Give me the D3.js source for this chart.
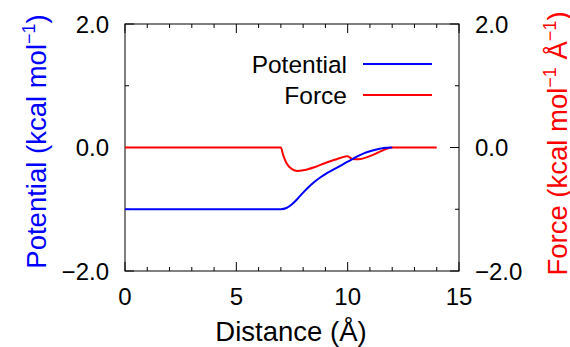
<!DOCTYPE html>
<html>
<head>
<meta charset="utf-8">
<script src="https://d3js.org/d3.v7.min.js"></script>
<style>
body { margin: 0; background: #fff; }
text { font-family: "Liberation Sans", Arial, sans-serif; }
</style>
</head>
<body>
<svg width="570" height="347"></svg>
<script>
// distance (Å) and values
var potX = [0, 7.0, 7.25, 7.5, 7.75, 8.0, 8.25, 8.5, 8.75, 9.0, 9.25, 9.5, 9.75, 10.0, 10.25, 10.5, 10.75, 11.0, 11.25, 11.5, 11.75, 12.0];
var potY = [-1, -1, -0.98, -0.92, -0.83, -0.73, -0.64, -0.56, -0.49, -0.43, -0.38, -0.33, -0.28, -0.23, -0.18, -0.13, -0.09, -0.06, -0.035, -0.015, -0.004, 0];
var forceX = [0, 7.0, 7.1, 7.25, 7.5, 7.75, 8.0, 8.5, 9.0, 9.5, 9.9, 10.0, 10.2, 10.5, 11.0, 11.5, 11.75, 12.0, 14.0];
var forceY = [0, 0, -0.12, -0.25, -0.35, -0.38, -0.37, -0.32, -0.25, -0.19, -0.145, -0.14, -0.185, -0.19, -0.14, -0.06, -0.02, 0, 0];
var xTicks = [0, 5, 10, 15];
var yTicks = [-2, 0, 2];

var svg = d3.select("svg");
var pl = 125, pr = 459, pt = 24, pb = 271;

var x = d3.scaleLinear().domain([0, 15]).range([pl, pr]);
var y = d3.scaleLinear().domain([-2, 2]).range([pb, pt]);

var g = svg.append("g");

// ticks (inward), major and minor
d3.range(0, 16).forEach(function(v) {
  var len = v % 5 === 0 ? 9 : 4;
  g.append("line").attr("x1", x(v)).attr("x2", x(v)).attr("y1", pb).attr("y2", pb - len).attr("stroke", "#000");
  g.append("line").attr("x1", x(v)).attr("x2", x(v)).attr("y1", pt).attr("y2", pt + len).attr("stroke", "#000");
});
d3.range(-2, 3).forEach(function(v) {
  var len = v % 2 === 0 ? 9 : 4;
  g.append("line").attr("x1", pl).attr("x2", pl + len).attr("y1", y(v)).attr("y2", y(v)).attr("stroke", "#000");
  g.append("line").attr("x1", pr).attr("x2", pr - len).attr("y1", y(v)).attr("y2", y(v)).attr("stroke", "#000");
});

g.append("rect").attr("x", pl).attr("y", pt).attr("width", pr - pl).attr("height", pb - pt)
  .attr("fill", "none").attr("stroke", "#000").attr("stroke-width", 1);

// tick labels
g.selectAll(".xl").data(xTicks).enter().append("text")
  .attr("x", function(d) { return x(d); }).attr("y", 305)
  .attr("text-anchor", "middle").attr("font-size", 24)
  .text(function(d) { return d; });

function fmt(d) { return d < 0 ? "\u2212" + Math.abs(d).toFixed(1) : d.toFixed(1); }

g.selectAll(".yl").data(yTicks).enter().append("text")
  .attr("x", 109).attr("y", function(d) { return y(d); }).attr("dy", "0.36em")
  .attr("text-anchor", "end").attr("font-size", 24)
  .text(fmt);

g.selectAll(".yr").data(yTicks).enter().append("text")
  .attr("x", 475).attr("y", function(d) { return y(d); }).attr("dy", "0.36em")
  .attr("text-anchor", "start").attr("font-size", 24)
  .text(fmt);

// axis titles
svg.append("text").attr("x", 291).attr("y", 341)
  .attr("text-anchor", "middle").attr("font-size", 27.5).text("Distance (Å)");

var lt = svg.append("text").attr("transform", "translate(46,141.5) rotate(-90)")
  .attr("text-anchor", "middle").attr("font-size", 27.5).attr("fill", "#0000ff");
lt.append("tspan").text("Potential (kcal mol");
lt.append("tspan").attr("font-size", 18).attr("dy", -11).text("\u22121");
lt.append("tspan").attr("dy", 11).text(")");

var rt = svg.append("text").attr("transform", "translate(567,143.5) rotate(-90)")
  .attr("text-anchor", "middle").attr("font-size", 27.5).attr("fill", "#ff0000");
rt.append("tspan").text("Force (kcal mol");
rt.append("tspan").attr("font-size", 18).attr("dy", -11).text("\u22121");
rt.append("tspan").attr("dy", 11).text(" Å");
rt.append("tspan").attr("font-size", 18).attr("dy", -11).text("\u22121");
rt.append("tspan").attr("dy", 11).text(")");

// curves
var line = d3.line().x(function(d) { return x(d[0]); }).y(function(d) { return y(d[1]); }).curve(d3.curveMonotoneX);

var pot = d3.zip(potX, potY);
var force = d3.zip(forceX, forceY);

svg.append("path").datum(force).attr("d", line).attr("fill", "none").attr("stroke", "#ff0000").attr("stroke-width", 2);
svg.append("path").datum(pot).attr("d", line).attr("fill", "none").attr("stroke", "#0000ff").attr("stroke-width", 2);

// legend
var legend = [["Potential", "#0000ff", 64], ["Force", "#ff0000", 95]];
legend.forEach(function(l) {
  svg.append("text").attr("x", 347).attr("y", l[2]).attr("dy", "0.36em")
    .attr("text-anchor", "end").attr("font-size", 24.5).text(l[0]);
  svg.append("line").attr("x1", 363).attr("x2", 432).attr("y1", l[2]).attr("y2", l[2])
    .attr("stroke", l[1]).attr("stroke-width", 2);
});
</script>
</body>
</html>
